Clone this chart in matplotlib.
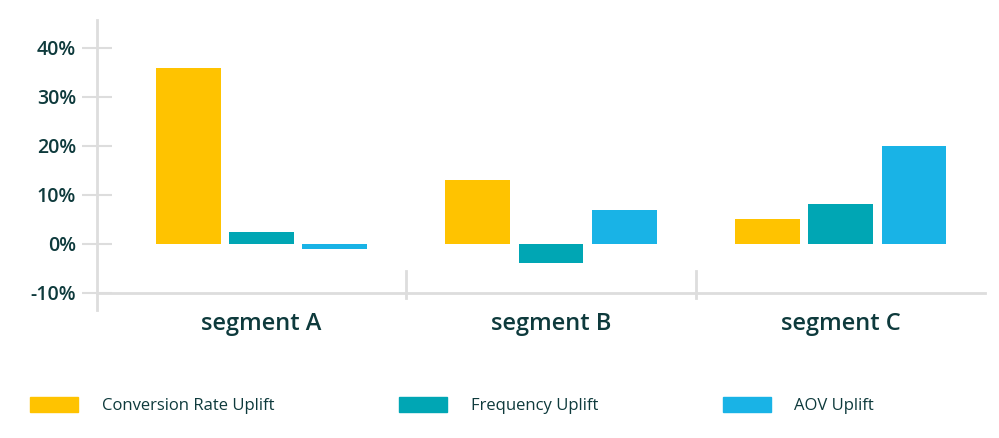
import numpy as np
import matplotlib.pyplot as plt
from matplotlib.patches import Patch

segments = ['segment A', 'segment B', 'segment C']
conv = [36, 13, 5]
freq = [2.5, -3.8, 8.2]
aov = [-1.0, 7.0, 20.0]
series = ['Conversion Rate Uplift', 'Frequency Uplift', 'AOV Uplift']
colors = ['#FFC300', '#00A6B4', '#19B3E6']
yticks = [-10, 0, 10, 20, 30, 40]

txt = '#0E3A3C'
grey = '#DDDDDD'
plt.rcParams['font.family'] = ['Open Sans', 'DejaVu Sans']

fig = plt.figure(figsize=(9.99, 4.38), dpi=100)
ax = fig.add_axes([97/999, 145/438, (985-97)/999, (293-20)/438])

x = np.arange(len(segments))
w = 0.224
step = 0.252
for i, vals in enumerate([conv, freq, aov]):
    ax.bar(x + (i - 1) * step, vals, w, color=colors[i], zorder=3)

ax.set_xlim(-0.566, 2.497)
ax.set_ylim(-10, 45.7)
ax.set_yticks(yticks)
ax.set_yticklabels(['%d%%' % t for t in yticks], fontsize=14, color=txt, fontweight='semibold')
ax.set_xticks(x)
ax.set_xticklabels(segments, fontsize=17, color=txt, fontweight='semibold')
ax.tick_params(axis='x', length=0, pad=14)
ax.tick_params(axis='y', length=22, direction='inout', color=grey, width=1.5, pad=4)

for s in ['top', 'right']:
    ax.spines[s].set_visible(False)
ax.spines['left'].set_color(grey)
ax.spines['left'].set_linewidth(2)
ax.spines['bottom'].set_color(grey)
ax.spines['bottom'].set_linewidth(2)
ax.plot([-0.566, -0.566], [-10, -13.5], color=grey, lw=2, clip_on=False)
for sep in [0.5, 1.5]:
    ax.plot([sep, sep], [-5.5, -11], color=grey, lw=2, clip_on=False)

handles = [Patch(color=c) for c in colors]
fig.legend(handles, series, loc='lower left', ncol=3, bbox_to_anchor=(0.015, 0.02, 0.875, 0.1),
           mode='expand', frameon=False, fontsize=12, handlelength=2.9, handleheight=1.0,
           handletextpad=1.4, labelcolor=txt)

fig.savefig('out.png', dpi=100)
